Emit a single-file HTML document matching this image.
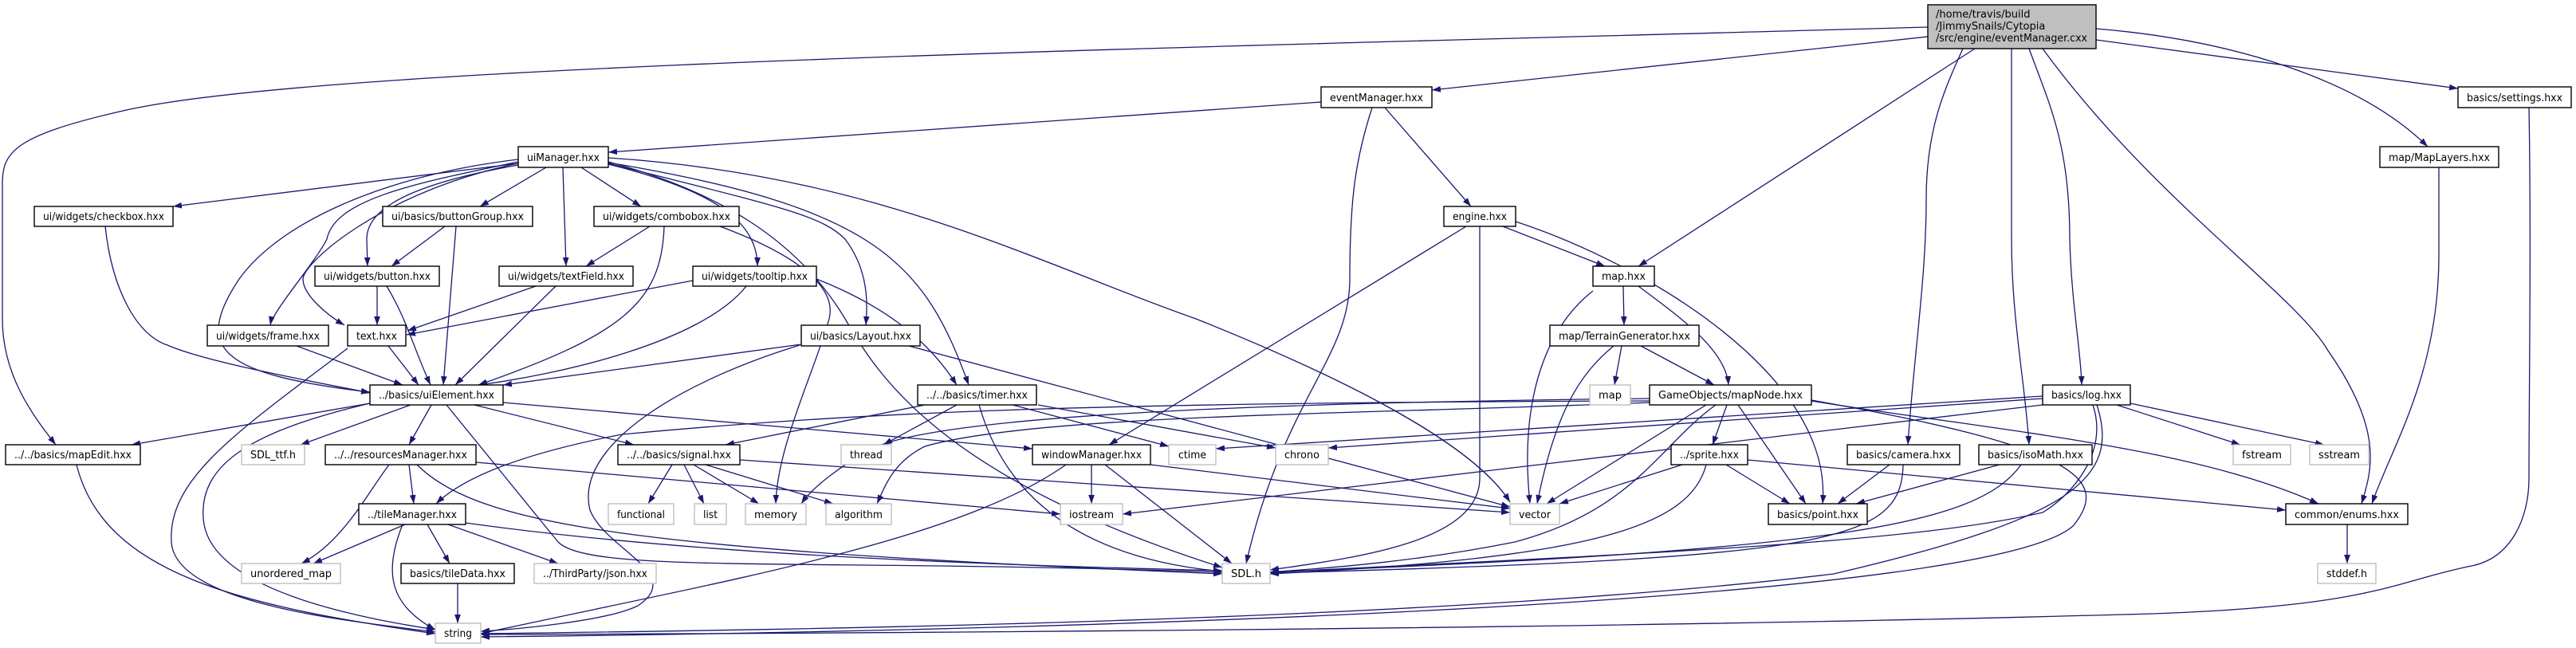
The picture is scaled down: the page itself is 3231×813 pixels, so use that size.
<!DOCTYPE html>
<html><head><meta charset="utf-8"><style>
html,body{margin:0;padding:0;background:#fff;}
svg{display:block;}
text{font-family:"DejaVu Sans","Liberation Sans",sans-serif;font-size:13px;fill:#000;}
.e{fill:none;stroke:#191970;stroke-width:1.3;marker-end:url(#a);}
.n{fill:#fff;stroke:#000;stroke-width:1.4;}
.g{fill:#fff;stroke:#bfbfbf;stroke-width:1.4;}
</style></head><body>
<svg width="3231" height="813" viewBox="0 0 3231 813" xmlns="http://www.w3.org/2000/svg">
<defs><marker id="a" viewBox="0 0 10 7" refX="10" refY="3.5" markerWidth="11" markerHeight="8" markerUnits="userSpaceOnUse" orient="auto"><polygon points="0,0 10,3.5 0,7" fill="#191970"/></marker></defs>
<g>
<path class="e" d="M2418,34 C1500,60 400,80 150,140 C20,170 3,190 3,230 L3,400 C3,470 40,520 70,558"/>
<path class="e" d="M2418,46 L1796,113"/>
<path class="e" d="M2477,61 L2055,334"/>
<path class="e" d="M2462,61 C2440,110 2416,160 2416,250 C2416,350 2400,450 2393,558"/>
<path class="e" d="M2523,61 L2523,300 C2523,400 2540,480 2545,558"/>
<path class="e" d="M2545,61 C2570,130 2596,180 2596,300 C2598,380 2610,440 2611,483"/>
<path class="e" d="M2562,61 C2700,250 2880,370 2920,440 C2990,540 2975,590 2962,632"/>
<path class="e" d="M2629,36 C2800,50 2960,100 3045,184"/>
<path class="e" d="M2629,50 L3083,111"/>
<path class="e" d="M3059,210 L3059,320 C3059,470 3000,560 2975,632"/>
<path class="e" d="M3172,135 C3175,300 3172,500 3172,600 C3172,650 3150,700 3100,710 C3000,730 2980,760 2700,770 C2000,790 1000,795 603,796"/>
<path class="e" d="M1657,128 L763,191"/>
<path class="e" d="M1737,135 L1845,259"/>
<path class="e" d="M1721,135 C1700,200 1693,250 1693,350 C1693,450 1610,500 1563,707"/>
<path class="e" d="M650,205 L217,259"/>
<path class="e" d="M685,210 L602,259"/>
<path class="e" d="M729,210 L804,259"/>
<path class="e" d="M706,210 L710,334"/>
<path class="e" d="M650,207 C520,230 460,260 460,300 L461,334"/>
<path class="e" d="M650,205 C480,240 380,330 380,350 C380,370 410,395 432,408"/>
<path class="e" d="M650,203 C520,230 420,250 410,300 C395,330 342,390 339,408"/>
<path class="e" d="M650,200 C480,220 350,280 300,350 C240,440 280,470 464,492"/>
<path class="e" d="M763,206 C900,240 950,280 950,334"/>
<path class="e" d="M763,205 C980,260 1030,270 1060,300 C1090,340 1088,380 1086,408"/>
<path class="e" d="M763,204 C1100,260 1160,330 1215,483"/>
<path class="e" d="M763,198 C1100,220 1300,330 1500,400 C1700,480 1850,560 1894,630"/>
<path class="e" d="M763,203 C900,240 1000,300 1060,400 C1100,470 1180,600 1533,712"/>
<path class="e" d="M558,284 L491,334"/>
<path class="e" d="M572,284 L556,483"/>
<path class="e" d="M815,284 L735,334"/>
<path class="e" d="M833,284 C830,380 780,420 600,483"/>
<path class="e" d="M903,284 C1000,320 1050,360 1040,400 C1020,470 975,560 973,632"/>
<path class="e" d="M132,284 C140,360 170,420 210,433 C260,455 400,480 464,493"/>
<path class="e" d="M473,359 L473,408"/>
<path class="e" d="M485,359 C510,400 520,440 540,483"/>
<path class="e" d="M672,359 L511,415"/>
<path class="e" d="M697,359 L571,483"/>
<path class="e" d="M869,352 L510,420"/>
<path class="e" d="M936,359 C880,430 700,470 600,483"/>
<path class="e" d="M1024,350 C1100,380 1160,420 1200,483"/>
<path class="e" d="M372,434 L505,483"/>
<path class="e" d="M487,434 L525,483"/>
<path class="e" d="M436,437 C300,540 210,600 215,680 C220,760 450,780 546,793"/>
<path class="e" d="M1005,432 L631,483"/>
<path class="e" d="M1003,433 C850,480 720,560 740,640 C760,690 860,720 800,760 C760,780 640,790 603,792"/>
<path class="e" d="M1140,434 L1894,636"/>
<path class="e" d="M470,505 L165,558"/>
<path class="e" d="M464,506 C320,540 250,580 255,650 C260,740 450,775 546,790"/>
<path class="e" d="M515,508 L377,558"/>
<path class="e" d="M541,508 L513,558"/>
<path class="e" d="M595,508 L795,558"/>
<path class="e" d="M631,505 L1295,563"/>
<path class="e" d="M560,508 L700,680 C740,720 1000,700 1533,718"/>
<path class="e" d="M513,583 L519,632"/>
<path class="e" d="M488,583 C460,620 430,680 378,707"/>
<path class="e" d="M597,580 L1330,645"/>
<path class="e" d="M523,583 C600,660 800,690 1533,720"/>
<path class="e" d="M843,583 L813,632"/>
<path class="e" d="M858,583 L883,632"/>
<path class="e" d="M870,583 L952,632"/>
<path class="e" d="M885,583 L1045,632"/>
<path class="e" d="M928,577 L1894,643"/>
<path class="e" d="M1200,508 L1108,558"/>
<path class="e" d="M1270,508 L1466,560"/>
<path class="e" d="M1302,508 L1600,562"/>
<path class="e" d="M1160,508 L910,558"/>
<path class="e" d="M1228,508 C1260,620 1350,700 1533,717"/>
<path class="e" d="M1369,583 L1369,632"/>
<path class="e" d="M1386,583 L1545,707"/>
<path class="e" d="M1443,583 L1894,638"/>
<path class="e" d="M1337,583 C1200,680 900,730 603,795"/>
<path class="e" d="M1839,284 L1391,558"/>
<path class="e" d="M1885,284 L2013,334"/>
<path class="e" d="M1856,284 L1856,600 C1856,680 1700,700 1593,715"/>
<path class="e" d="M1901,278 C2060,330 2300,470 2286,632"/>
<path class="e" d="M2036,359 L2037,408"/>
<path class="e" d="M2055,359 C2110,400 2165,440 2168,483"/>
<path class="e" d="M1998,365 C1940,410 1905,500 1919,632"/>
<path class="e" d="M2034,434 L2025,483"/>
<path class="e" d="M2058,434 L2150,483"/>
<path class="e" d="M2024,434 C1980,470 1950,520 1928,632"/>
<path class="e" d="M2140,508 L1940,632"/>
<path class="e" d="M2166,508 L2148,558"/>
<path class="e" d="M2180,508 L2265,632"/>
<path class="e" d="M2152,508 C2080,560 2050,640 1900,680 C1750,710 1620,715 1593,718"/>
<path class="e" d="M2272,503 C2500,540 2750,560 2908,632"/>
<path class="e" d="M2272,502 C2600,560 2650,600 2600,660 C2500,750 1500,790 603,799"/>
<path class="e" d="M2069,505 C1700,520 1300,520 1160,560 C1120,580 1110,610 1100,632"/>
<path class="e" d="M2069,500 C1600,505 1200,520 1100,560 C1060,580 1020,610 1005,632"/>
<path class="e" d="M2069,503 C1400,505 1100,515 780,545 C650,570 580,600 547,632"/>
<path class="e" d="M2562,497 L1525,563"/>
<path class="e" d="M2562,500 L1666,562"/>
<path class="e" d="M2562,508 L1408,645"/>
<path class="e" d="M2655,508 L2810,558"/>
<path class="e" d="M2672,506 L2915,558"/>
<path class="e" d="M2625,508 C2645,567 2600,620 2562,643 C2400,680 2100,693 1593,718"/>
<path class="e" d="M2630,508 C2660,600 2600,650 2300,720 C1800,780 1000,790 603,795"/>
<path class="e" d="M2110,583 L1956,632"/>
<path class="e" d="M2165,583 L2245,632"/>
<path class="e" d="M2192,577 L2867,640"/>
<path class="e" d="M2140,583 C2120,660 2000,700 1593,720"/>
<path class="e" d="M2370,583 L2305,632"/>
<path class="e" d="M2387,583 C2385,680 2300,700 1593,719"/>
<path class="e" d="M2508,583 L2328,632"/>
<path class="e" d="M2535,583 C2480,660 2300,690 1593,718"/>
<path class="e" d="M2944,658 L2944,707"/>
<path class="e" d="M574,732 L574,782"/>
<path class="e" d="M508,658 L393,707"/>
<path class="e" d="M536,658 L564,707"/>
<path class="e" d="M562,658 L700,707"/>
<path class="e" d="M505,658 C480,720 490,760 546,790"/>
<path class="e" d="M584,656 C900,700 1300,710 1533,716"/>
<path class="e" d="M96,583 C130,720 300,760 546,795"/>
</g>
<g>
<rect x="2418" y="6" width="211" height="55" fill="#bfbfbf" stroke="#000" stroke-width="1.4"/>
<text x="2428" y="22">/home/travis/build</text>
<text x="2428" y="37">/JimmySnails/Cytopia</text>
<text x="2428" y="52" textLength="190" lengthAdjust="spacingAndGlyphs">/src/engine/eventManager.cxx</text>
</g>
<g text-anchor="middle">
<rect class="n" x="1657" y="109" width="139" height="26"/><text x="1726.5" y="127" textLength="117" lengthAdjust="spacingAndGlyphs">eventManager.hxx</text>
<rect class="n" x="3083" y="109" width="142" height="26"/><text x="3154" y="127" textLength="120" lengthAdjust="spacingAndGlyphs">basics/settings.hxx</text>
<rect class="n" x="650" y="184" width="113" height="26"/><text x="706.5" y="202" textLength="91" lengthAdjust="spacingAndGlyphs">uiManager.hxx</text>
<rect class="n" x="2985" y="184" width="149" height="26"/><text x="3059.5" y="202" textLength="127" lengthAdjust="spacingAndGlyphs">map/MapLayers.hxx</text>
<rect class="n" x="43" y="259" width="174" height="25"/><text x="130" y="276" textLength="152" lengthAdjust="spacingAndGlyphs">ui/widgets/checkbox.hxx</text>
<rect class="n" x="480" y="259" width="188" height="25"/><text x="574" y="276" textLength="166" lengthAdjust="spacingAndGlyphs">ui/basics/buttonGroup.hxx</text>
<rect class="n" x="745" y="259" width="182" height="25"/><text x="836" y="276" textLength="160" lengthAdjust="spacingAndGlyphs">ui/widgets/combobox.hxx</text>
<rect class="n" x="1811" y="259" width="90" height="25"/><text x="1856" y="276" textLength="68" lengthAdjust="spacingAndGlyphs">engine.hxx</text>
<rect class="n" x="395" y="334" width="156" height="25"/><text x="473" y="351" textLength="134" lengthAdjust="spacingAndGlyphs">ui/widgets/button.hxx</text>
<rect class="n" x="626" y="334" width="168" height="25"/><text x="710" y="351" textLength="146" lengthAdjust="spacingAndGlyphs">ui/widgets/textField.hxx</text>
<rect class="n" x="869" y="334" width="155" height="25"/><text x="946.5" y="351" textLength="133" lengthAdjust="spacingAndGlyphs">ui/widgets/tooltip.hxx</text>
<rect class="n" x="1998" y="334" width="77" height="25"/><text x="2036.5" y="351" textLength="55" lengthAdjust="spacingAndGlyphs">map.hxx</text>
<rect class="n" x="260" y="408" width="152" height="26"/><text x="336" y="426" textLength="130" lengthAdjust="spacingAndGlyphs">ui/widgets/frame.hxx</text>
<rect class="n" x="436" y="408" width="73" height="26"/><text x="472.5" y="426" textLength="51" lengthAdjust="spacingAndGlyphs">text.hxx</text>
<rect class="n" x="1005" y="408" width="149" height="26"/><text x="1079.5" y="426" textLength="127" lengthAdjust="spacingAndGlyphs">ui/basics/Layout.hxx</text>
<rect class="n" x="1944" y="408" width="187" height="26"/><text x="2037.5" y="426" textLength="165" lengthAdjust="spacingAndGlyphs">map/TerrainGenerator.hxx</text>
<rect class="n" x="464" y="483" width="167" height="25"/><text x="547.5" y="500" textLength="145" lengthAdjust="spacingAndGlyphs">../basics/uiElement.hxx</text>
<rect class="n" x="1151" y="483" width="149" height="25"/><text x="1225.5" y="500" textLength="127" lengthAdjust="spacingAndGlyphs">../../basics/timer.hxx</text>
<rect class="g" x="1994" y="483" width="51" height="25"/><text x="2019.5" y="500" textLength="29" lengthAdjust="spacingAndGlyphs">map</text>
<rect class="n" x="2069" y="483" width="203" height="25"/><text x="2170.5" y="500" textLength="181" lengthAdjust="spacingAndGlyphs">GameObjects/mapNode.hxx</text>
<rect class="n" x="2562" y="483" width="110" height="25"/><text x="2617" y="500" textLength="88" lengthAdjust="spacingAndGlyphs">basics/log.hxx</text>
<rect class="n" x="7" y="558" width="169" height="25"/><text x="91.5" y="575" textLength="147" lengthAdjust="spacingAndGlyphs">../../basics/mapEdit.hxx</text>
<rect class="g" x="303" y="558" width="79" height="25"/><text x="342.5" y="575" textLength="57" lengthAdjust="spacingAndGlyphs">SDL_ttf.h</text>
<rect class="n" x="408" y="558" width="189" height="25"/><text x="502.5" y="575" textLength="167" lengthAdjust="spacingAndGlyphs">../../resourcesManager.hxx</text>
<rect class="n" x="775" y="558" width="153" height="25"/><text x="851.5" y="575" textLength="131" lengthAdjust="spacingAndGlyphs">../../basics/signal.hxx</text>
<rect class="g" x="1055" y="558" width="63" height="25"/><text x="1086.5" y="575" textLength="41" lengthAdjust="spacingAndGlyphs">thread</text>
<rect class="n" x="1295" y="558" width="148" height="25"/><text x="1369" y="575" textLength="126" lengthAdjust="spacingAndGlyphs">windowManager.hxx</text>
<rect class="g" x="1466" y="558" width="59" height="25"/><text x="1495.5" y="575" textLength="35" lengthAdjust="spacingAndGlyphs">ctime</text>
<rect class="g" x="1600" y="558" width="66" height="25"/><text x="1633" y="575" textLength="44" lengthAdjust="spacingAndGlyphs">chrono</text>
<rect class="n" x="2096" y="558" width="96" height="25"/><text x="2144" y="575" textLength="74" lengthAdjust="spacingAndGlyphs">../sprite.hxx</text>
<rect class="n" x="2317" y="558" width="141" height="25"/><text x="2387.5" y="575" textLength="119" lengthAdjust="spacingAndGlyphs">basics/camera.hxx</text>
<rect class="n" x="2482" y="558" width="142" height="25"/><text x="2553" y="575" textLength="120" lengthAdjust="spacingAndGlyphs">basics/isoMath.hxx</text>
<rect class="g" x="2801" y="558" width="72" height="25"/><text x="2837" y="575" textLength="50" lengthAdjust="spacingAndGlyphs">fstream</text>
<rect class="g" x="2897" y="558" width="74" height="25"/><text x="2934" y="575" textLength="52" lengthAdjust="spacingAndGlyphs">sstream</text>
<rect class="g" x="763" y="632" width="82" height="26"/><text x="804" y="650" textLength="60" lengthAdjust="spacingAndGlyphs">functional</text>
<rect class="g" x="871" y="632" width="40" height="26"/><text x="891" y="650" textLength="18" lengthAdjust="spacingAndGlyphs">list</text>
<rect class="g" x="935" y="632" width="76" height="26"/><text x="973" y="650" textLength="54" lengthAdjust="spacingAndGlyphs">memory</text>
<rect class="g" x="1036" y="632" width="82" height="26"/><text x="1077" y="650" textLength="60" lengthAdjust="spacingAndGlyphs">algorithm</text>
<rect class="n" x="450" y="632" width="134" height="26"/><text x="517" y="650" textLength="112" lengthAdjust="spacingAndGlyphs">../tileManager.hxx</text>
<rect class="g" x="1330" y="632" width="78" height="26"/><text x="1369" y="650" textLength="56" lengthAdjust="spacingAndGlyphs">iostream</text>
<rect class="g" x="1894" y="632" width="62" height="26"/><text x="1925" y="650" textLength="40" lengthAdjust="spacingAndGlyphs">vector</text>
<rect class="n" x="2218" y="632" width="124" height="26"/><text x="2280" y="650" textLength="102" lengthAdjust="spacingAndGlyphs">basics/point.hxx</text>
<rect class="n" x="2867" y="632" width="153" height="26"/><text x="2943.5" y="650" textLength="131" lengthAdjust="spacingAndGlyphs">common/enums.hxx</text>
<rect class="g" x="303" y="707" width="124" height="25"/><text x="365" y="724" textLength="102" lengthAdjust="spacingAndGlyphs">unordered_map</text>
<rect class="n" x="503" y="707" width="142" height="25"/><text x="574" y="724" textLength="120" lengthAdjust="spacingAndGlyphs">basics/tileData.hxx</text>
<rect class="g" x="670" y="707" width="153" height="25"/><text x="746.5" y="724" textLength="131" lengthAdjust="spacingAndGlyphs">../ThirdParty/json.hxx</text>
<rect class="g" x="1533" y="707" width="60" height="25"/><text x="1563" y="724" textLength="38" lengthAdjust="spacingAndGlyphs">SDL.h</text>
<rect class="g" x="2907" y="707" width="73" height="25"/><text x="2943.5" y="724" textLength="51" lengthAdjust="spacingAndGlyphs">stddef.h</text>
<rect class="g" x="546" y="782" width="57" height="25"/><text x="574.5" y="799" textLength="35" lengthAdjust="spacingAndGlyphs">string</text>
</g>
</svg>
</body></html>
